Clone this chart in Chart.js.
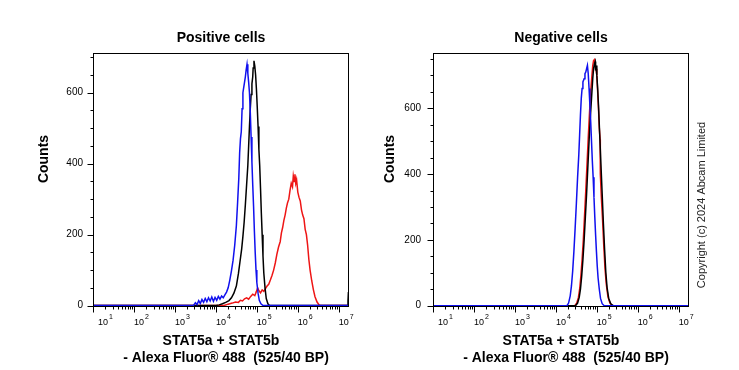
<!DOCTYPE html>
<html>
<head>
<meta charset="utf-8">
<script src="https://cdn.jsdelivr.net/npm/chart.js@4.4.0/dist/chart.umd.min.js"></script>
<style>
  html, body { margin: 0; padding: 0; background: #fff; }
  #wrap { position: relative; width: 739px; height: 370px; }
  canvas { position: absolute; top: 0; }
</style>
</head>
<body>
<div id="wrap">
  <canvas id="pos" width="370" height="370" style="left:0"></canvas>
  <canvas id="neg" width="369" height="370" style="left:370px"></canvas>
</div>
<script>
// Histogram data: [log10 intensity, counts]
const posBlue = [[1.00,0],[3.45,0],[3.50,8],[3.54,3],[3.58,14],[3.62,6],[3.66,17],[3.70,9],[3.74,20],[3.78,11],
  [3.82,22],[3.86,13],[3.90,24],[3.94,12],[3.98,23],[4.02,15],[4.06,26],[4.10,18],[4.14,27],[4.18,22],[4.22,30],
  [4.26,38],[4.30,50],[4.34,72],[4.38,98],[4.42,128],[4.46,170],[4.50,225],[4.53,290],[4.56,360],[4.58,430],
  [4.60,470],[4.62,490],[4.64,555],[4.66,600],[4.68,615],[4.70,630],[4.72,645],[4.74,665],[4.76,680],[4.78,655],
  [4.80,630],[4.82,600],[4.84,545],[4.86,475],[4.88,405],[4.90,340],[4.92,280],[4.94,210],[4.96,150],[4.98,100],
  [5.00,65],[5.03,35],[5.06,15],[5.10,5],[5.15,0],[7.25,0]];
const posBlack = [[1.00,0],[4.00,0],[4.08,2],[4.16,5],[4.24,9],[4.32,14],[4.38,22],[4.44,35],[4.50,55],[4.55,90],
  [4.59,125],[4.63,160],[4.66,195],[4.69,235],[4.72,285],[4.75,340],[4.78,395],[4.80,450],[4.82,505],[4.84,555],
  [4.86,595],[4.88,625],[4.90,645],[4.91,670],[4.93,690],[4.95,675],[4.97,650],[4.99,610],[5.01,560],[5.03,505],
  [5.05,440],[5.07,395],[5.09,330],[5.11,260],[5.13,200],[5.15,140],[5.17,92],[5.20,50],[5.23,20],[5.27,5],
  [5.31,0],[7.21,0],[7.225,12],[7.235,36],[7.25,36]];
const posRed = [[1.00,0],[4.20,0],[4.30,4],[4.40,7],[4.48,10],[4.55,9],[4.60,15],[4.65,13],[4.70,19],[4.75,22],
  [4.80,18],[4.85,26],[4.90,32],[4.95,28],[4.99,40],[5.02,50],[5.05,42],[5.09,36],[5.13,44],[5.17,40],[5.21,48],
  [5.25,55],[5.29,60],[5.33,72],[5.37,85],[5.41,100],[5.45,120],[5.49,145],[5.53,165],[5.57,180],[5.60,205],
  [5.63,220],[5.66,240],[5.69,255],[5.72,275],[5.75,290],[5.78,300],[5.81,325],[5.84,345],[5.87,335],[5.89,365],
  [5.91,350],[5.93,370],[5.95,345],[5.97,355],[6.00,320],[6.03,305],[6.06,295],[6.09,270],[6.12,255],[6.15,245],
  [6.18,215],[6.21,200],[6.24,170],[6.27,130],[6.30,100],[6.34,70],[6.38,45],[6.42,25],[6.47,10],[6.52,2],
  [6.56,0],[7.25,0]];

const negBlue = [[1.00,0],[4.27,0],[4.31,8],[4.35,30],[4.38,60],[4.41,105],[4.44,165],[4.47,235],[4.50,310],
  [4.53,390],[4.56,460],[4.58,520],[4.60,580],[4.62,630],[4.64,660],[4.66,680],[4.69,690],[4.71,705],[4.73,710],
  [4.75,720],[4.77,730],[4.79,705],[4.81,660],[4.83,610],[4.85,560],[4.87,500],[4.89,440],[4.91,390],[4.93,330],
  [4.95,270],[4.97,215],[4.99,165],[5.01,120],[5.03,85],[5.06,50],[5.09,22],[5.13,6],[5.18,0],[7.25,0]];
const negBlack = [[1.00,0],[4.48,0],[4.53,8],[4.57,25],[4.60,50],[4.63,90],[4.66,140],[4.69,200],[4.72,270],
  [4.75,340],[4.78,420],[4.81,500],[4.84,570],[4.87,630],[4.90,690],[4.92,720],[4.94,735],[4.96,742],[4.97,715],
  [4.98,730],[5.00,700],[5.02,660],[5.04,610],[5.07,520],[5.10,430],[5.13,340],[5.16,250],[5.19,170],[5.22,100],
  [5.25,55],[5.29,22],[5.34,6],[5.40,0],[7.25,0]];
const negRed = [[1.00,0],[4.46,0],[4.51,8],[4.55,25],[4.58,50],[4.61,90],[4.64,140],[4.67,200],[4.70,275],
  [4.73,350],[4.76,430],[4.79,510],[4.82,585],[4.85,650],[4.88,700],[4.90,730],[4.92,745],[4.94,748],[4.96,735],
  [4.98,720],[5.00,700],[5.02,650],[5.04,600],[5.06,540],[5.08,505],[5.085,400],[5.11,330],[5.14,260],
  [5.17,180],[5.20,112],[5.23,66],[5.27,28],[5.32,8],[5.38,0],[7.25,0]];

// axis labels
const xDecades = [1, 2, 3, 4, 5, 6, 7];
const yLabelTicks = [0, 200, 400, 600];
const yMinorStep = 50;
const xTitleLines = ['STAT5a + STAT5b', '- Alexa Fluor\u00AE 488  (525/40 BP)'];
const yTitle = 'Counts';
const copyright = 'Copyright (c) 2024 Abcam Limited';

const FONT = '"Liberation Sans", Arial, sans-serif';
const BLUE = '#1010ee';
const BLACK = '#000000';
const RED = '#ee1515';

function toPoints(arr) {
  return arr.map(p => ({ x: Math.pow(10, p[0]), y: p[1] }));
}

// draws frame, ticks, labels and titles around the plot area
const decoPlugin = {
  id: 'deco',
  afterDraw(chart, args, opts) {
    const ctx = chart.ctx;
    const a = chart.chartArea;
    const xs = chart.scales.x;
    const ys = chart.scales.y;
    ctx.save();
    ctx.strokeStyle = '#000';
    ctx.fillStyle = '#000';
    ctx.lineWidth = 1;

    // frame
    ctx.strokeRect(a.left + 0.5, a.top + 0.5, a.right - a.left - 1, a.bottom - a.top - 1);

    // y ticks
    ctx.beginPath();
    for (let v = 0; v <= ys.max; v += yMinorStep) {
      const y = Math.round(ys.getPixelForValue(v)) + 0.5;
      const len = yLabelTicks.includes(v) ? 6 : 3;
      ctx.moveTo(a.left + 0.5, y);
      ctx.lineTo(a.left + 0.5 - len, y);
    }
    // x ticks
    xDecades.forEach(d => {
      for (let k = 1; k <= 9; k++) {
        const v = k * Math.pow(10, d);
        if (v > xs.max) break;
        const x = Math.round(xs.getPixelForValue(v)) + 0.5;
        const len = k === 1 ? 6 : 3;
        ctx.moveTo(x, a.bottom - 0.5);
        ctx.lineTo(x, a.bottom - 0.5 + len);
      }
    });
    ctx.stroke();

    // y labels
    ctx.font = '10px ' + FONT;
    ctx.textAlign = 'right';
    ctx.textBaseline = 'middle';
    yLabelTicks.forEach(v => {
      ctx.fillText(String(v), a.left - opts.yLabelGap, ys.getPixelForValue(v));
    });

    // x labels: 10 with superscript exponent
    ctx.textAlign = 'left';
    ctx.textBaseline = 'alphabetic';
    xDecades.forEach(d => {
      let x = xs.getPixelForValue(Math.pow(10, d));
      x = Math.max(x, a.left + 5);
      ctx.font = '9px ' + FONT;
      ctx.fillText('10', x, 324.5);
      const w = ctx.measureText('10').width;
      ctx.font = '7px ' + FONT;
      ctx.fillText(String(d), x + w + 1, 319);
    });

    // titles
    const cx = (a.left + a.right) / 2;
    ctx.font = 'bold 14px ' + FONT;
    ctx.textAlign = 'center';
    ctx.fillText(opts.title, cx, 42);
    ctx.fillText(xTitleLines[0], cx, 345);
    ctx.fillText(xTitleLines[1], cx + 5, 362);

    ctx.save();
    ctx.translate(opts.yTitleX, 159);
    ctx.rotate(-Math.PI / 2);
    ctx.textBaseline = 'middle';
    ctx.fillText(yTitle, 0, 0);
    ctx.restore();

    if (opts.copyrightX) {
      ctx.save();
      ctx.translate(opts.copyrightX, 205);
      ctx.rotate(-Math.PI / 2);
      ctx.font = '11px ' + FONT;
      ctx.textBaseline = 'middle';
      ctx.fillStyle = '#222';
      ctx.fillText(copyright, 0, 0);
      ctx.restore();
    }
    ctx.restore();
  }
};

function makePanel(canvasId, series, yMax, padding, deco) {
  return new Chart(document.getElementById(canvasId), {
    type: 'line',
    data: {
      // first dataset is drawn on top
      datasets: [
        { data: toPoints(series[0]), borderColor: BLUE },
        { data: toPoints(series[1]), borderColor: BLACK },
        { data: toPoints(series[2]), borderColor: RED }
      ].map(ds => Object.assign(ds, { borderWidth: 1.5, pointRadius: 0, tension: 0, fill: false }))
    },
    options: {
      responsive: false,
      animation: false,
      layout: { padding: padding },
      plugins: {
        legend: { display: false },
        tooltip: { enabled: false },
        deco: deco
      },
      scales: {
        x: { type: 'logarithmic', min: 10, max: Math.pow(10, 7.25), display: false },
        y: { type: 'linear', min: -4, max: yMax, display: false }
      }
    },
    plugins: [decoPlugin]
  });
}

makePanel('pos', [posBlue, posBlack, posRed], 712,
  { left: 93, right: 21, top: 53, bottom: 63 },
  { title: 'Positive cells', yTitleX: 44, yLabelGap: 10 });

makePanel('neg', [negBlue, negBlack, negRed], 768,
  { left: 63, right: 50, top: 53, bottom: 63 },
  { title: 'Negative cells', yTitleX: 20, yLabelGap: 12, copyrightX: 332 });
</script>
</body>
</html>
